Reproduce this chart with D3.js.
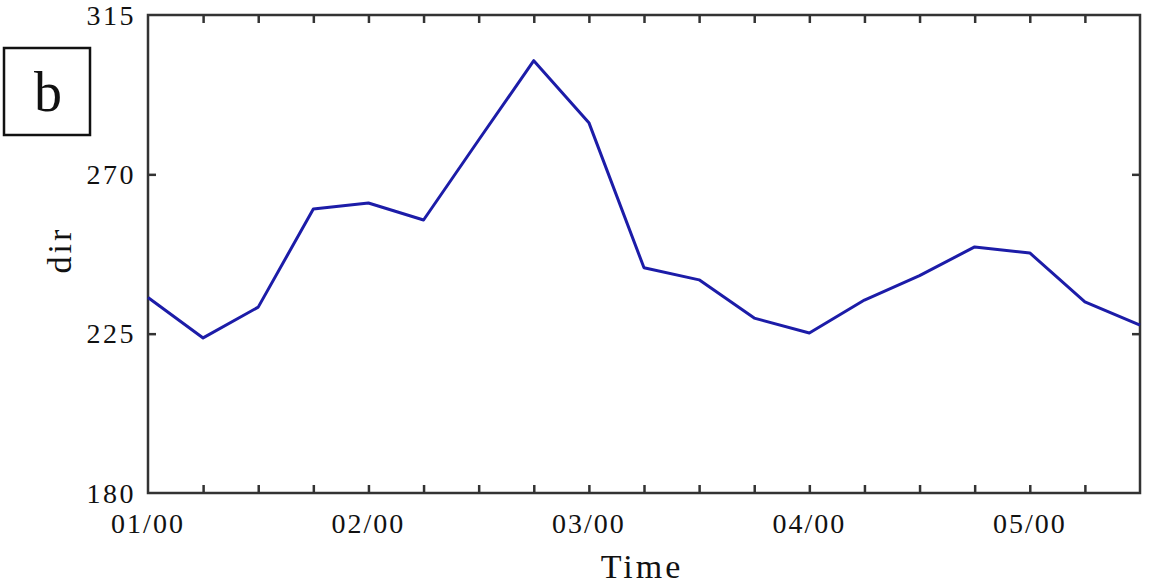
<!DOCTYPE html>
<html>
<head>
<meta charset="utf-8">
<script src="https://cdn.jsdelivr.net/npm/d3@7"></script>
<style>
  body { margin: 0; background: #fff; }
  svg { display: block; }
  text { font-family: "Liberation Serif", "DejaVu Serif", serif; fill: #111; }
</style>
</head>
<body>
<div class="chart"></div>
<script>
// hours since 01/00, one sample every 6 h
const hours = [0, 6, 12, 18, 24, 30, 36, 42, 48, 54, 60, 66, 72, 78, 84, 90, 96, 102, 108];
const dir = [235.2, 223.8, 232.5, 260.2, 261.9, 257.1, 279.7, 302.1, 284.6, 243.6, 240.2,
             229.4, 225.2, 234.5, 241.4, 249.5, 247.8, 234.0, 227.4];

const dayTicks = [0, 24, 48, 72, 96];
const dayLabels = ['01/00', '02/00', '03/00', '04/00', '05/00'];
const minorTicks = [6, 12, 18, 24, 30, 36, 42, 48, 54, 60, 66, 72, 78, 84, 90, 96, 102];
const yTicks = [180, 225, 270, 315];

const chartWidth = 1150;
const chartHeight = 586;
const margin = { left: 148, right: 10, top: 15, bottom: 93 };
const width = chartWidth - margin.left - margin.right;
const height = chartHeight - margin.top - margin.bottom;

const svg = d3.select('.chart')
  .append('svg')
  .attr('width', chartWidth)
  .attr('height', chartHeight);

const g = svg.append('g')
  .attr('transform', `translate(${margin.left}, ${margin.top})`);

const xScale = d3.scaleLinear()
  .domain([0, 108])
  .range([0, width]);

const yScale = d3.scaleLinear()
  .domain([180, 315])
  .range([height, 0]);

const axisColor = '#333';

// inward ticks on all four sides
const styleAxis = sel => {
  sel.select('.domain').remove();
  sel.selectAll('.tick line')
    .attr('stroke', axisColor)
    .attr('stroke-width', 2.5);
  sel.selectAll('.tick text').remove();
};

g.append('g')
  .attr('transform', `translate(0, ${height})`)
  .call(d3.axisBottom(xScale).tickValues(minorTicks).tickSize(-8))
  .call(styleAxis);

g.append('g')
  .call(d3.axisTop(xScale).tickValues(minorTicks).tickSize(-8))
  .call(styleAxis);

g.append('g')
  .call(d3.axisLeft(yScale).tickValues([225, 270]).tickSize(-8))
  .call(styleAxis);

g.append('g')
  .attr('transform', `translate(${width}, 0)`)
  .call(d3.axisRight(yScale).tickValues([225, 270]).tickSize(-8))
  .call(styleAxis);

// frame
g.append('rect')
  .attr('width', width)
  .attr('height', height)
  .attr('fill', 'none')
  .attr('stroke', axisColor)
  .attr('stroke-width', 2.5);

// tick labels
g.selectAll('.ylab')
  .data(yTicks)
  .enter()
  .append('text')
  .attr('class', 'ylab')
  .attr('x', -12)
  .attr('y', d => yScale(d))
  .attr('dy', '0.34em')
  .attr('text-anchor', 'end')
  .attr('font-size', '28px')
  .attr('letter-spacing', '2.5px')
  .text(d => d);

g.selectAll('.xlab')
  .data(dayTicks)
  .enter()
  .append('text')
  .attr('class', 'xlab')
  .attr('x', (d, i) => xScale(d))
  .attr('y', height + 40)
  .attr('text-anchor', 'middle')
  .attr('font-size', '28px')
  .attr('letter-spacing', '2px')
  .text((d, i) => dayLabels[i]);

// axis titles
svg.append('text')
  .attr('x', 642)
  .attr('y', 578)
  .attr('text-anchor', 'middle')
  .attr('font-size', '34px')
  .attr('letter-spacing', '3px')
  .text('Time');

svg.append('text')
  .attr('transform', 'translate(71, 250) rotate(-90)')
  .attr('text-anchor', 'middle')
  .attr('font-size', '34px')
  .attr('letter-spacing', '3px')
  .text('dir');

// panel label
svg.append('rect')
  .attr('x', 4)
  .attr('y', 48)
  .attr('width', 86)
  .attr('height', 87)
  .attr('fill', 'none')
  .attr('stroke', '#111')
  .attr('stroke-width', 2.5);

svg.append('text')
  .attr('x', 48)
  .attr('y', 111)
  .attr('text-anchor', 'middle')
  .attr('font-size', '56px')
  .text('b');

// series
const line = d3.line()
  .x((d, i) => xScale(hours[i]))
  .y(d => yScale(d));

g.append('path')
  .datum(dir)
  .attr('d', line)
  .attr('fill', 'none')
  .attr('stroke', '#1c1ca8')
  .attr('stroke-width', 3)
  .attr('stroke-linejoin', 'round');
</script>
</body>
</html>
